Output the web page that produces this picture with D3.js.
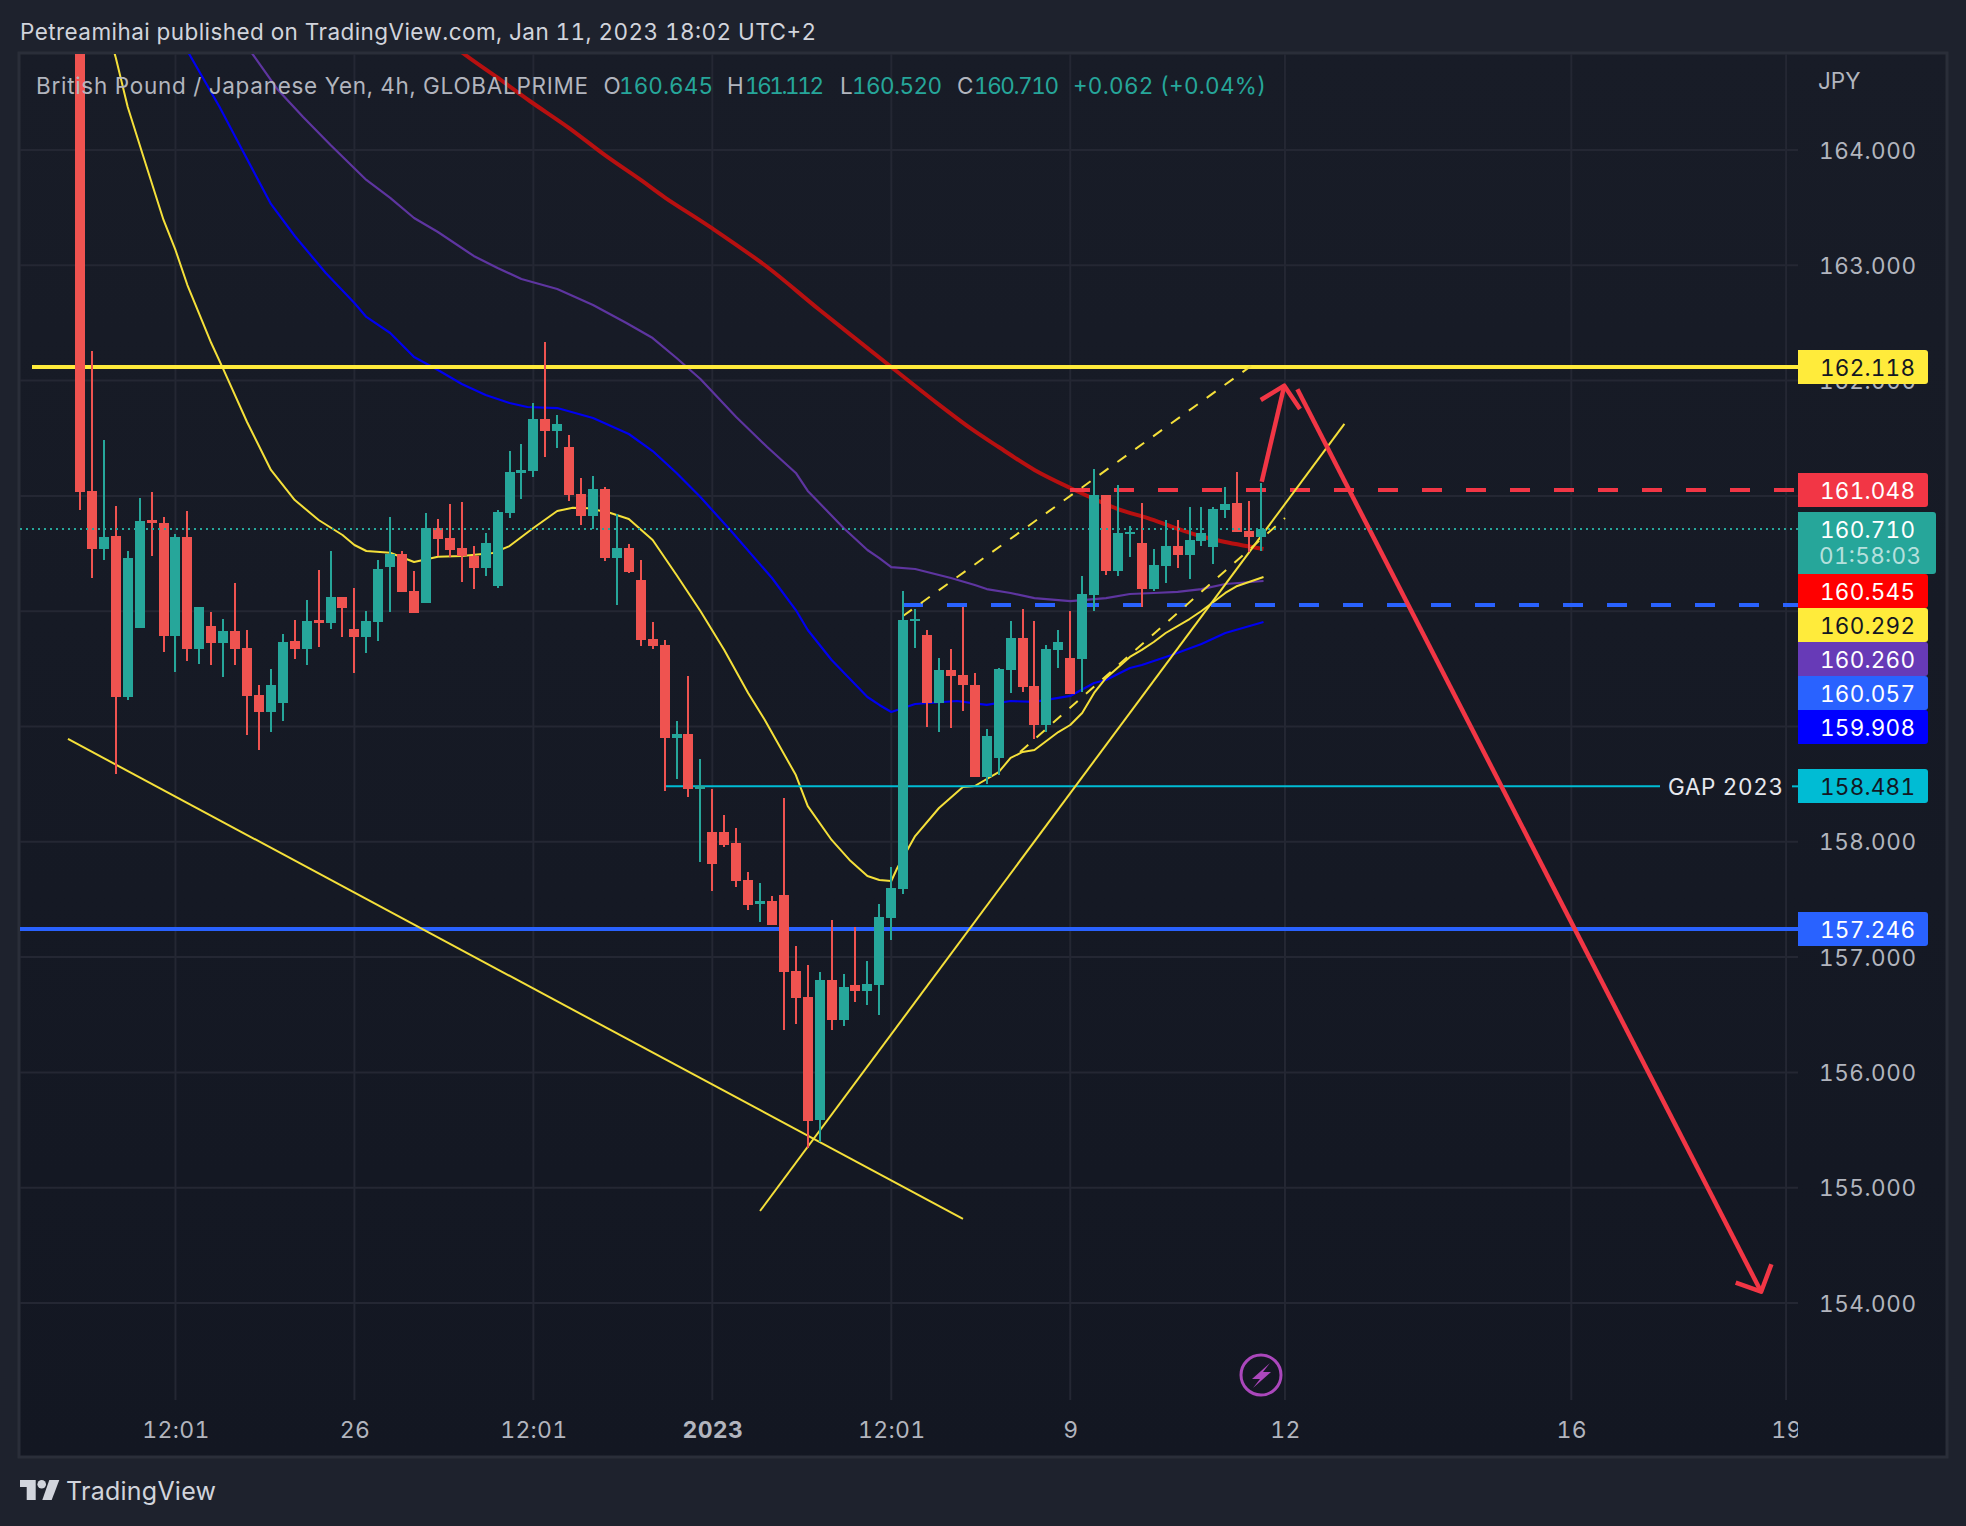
<!DOCTYPE html>
<html>
<head>
<meta charset="utf-8">
<script src="https://cdn.jsdelivr.net/npm/d3@7"></script>
<style>
html,body{margin:0;padding:0;background:#1e222d;}
svg{display:block;}
text{font-family:Inter,"Noto Sans",sans-serif;font-variant-numeric:tabular-nums;font-feature-settings:"tnum" 1;}
</style>
</head>
<body>
<div id="chart"></div>
<script>
// ---- candle data (GBPJPY 4h) ----
const opens=[165.9,161.043,160.540,160.653,159.256,159.855,160.791,160.765,159.785,160.644,159.673,159.872,159.725,159.829,159.681,159.274,159.126,159.204,159.742,159.673,159.924,159.898,160.124,159.846,159.777,159.907,160.384,160.497,160.176,160.072,160.722,160.635,160.549,160.479,160.375,160.219,160.852,161.199,161.216,161.667,161.563,161.425,161.017,160.826,161.060,160.462,160.549,160.271,159.759,159.707,158.901,158.935,158.458,158.085,158.085,157.990,157.669,157.461,157.487,157.539,156.880,156.654,155.588,156.802,156.455,156.758,156.706,156.758,157.340,157.591,159.915,159.794,159.204,159.490,159.447,159.360,158.562,158.727,159.490,159.768,159.352,159.013,159.664,159.594,159.586,160.141,161.008,160.349,160.670,160.592,160.193,160.392,160.566,160.488,160.609,160.557,160.878,160.939,160.696,160.645];
const highs=[166.000,162.257,161.485,160.913,160.523,160.982,161.034,160.817,160.670,160.869,160.037,159.993,159.933,160.245,159.837,159.360,159.499,159.803,159.924,160.098,160.358,160.523,160.124,160.202,160.002,160.444,160.817,160.523,160.349,160.852,160.800,160.930,160.947,160.566,160.679,160.878,161.390,161.451,161.806,162.335,161.702,161.529,161.156,161.173,161.078,160.843,160.583,160.444,159.907,159.751,159.048,159.438,158.719,158.458,158.233,158.120,157.738,157.643,157.530,158.380,157.097,156.932,156.871,157.322,156.854,157.261,156.967,157.461,157.782,160.176,160.020,159.837,159.594,159.673,160.037,159.464,158.979,159.508,159.915,160.020,159.915,159.707,159.837,160.002,160.306,161.234,161.008,161.095,160.739,160.939,160.540,160.791,160.791,160.904,160.904,160.904,161.078,161.208,160.956,161.112];
const lows=[160.878,160.288,160.444,158.588,159.230,159.855,160.479,159.647,159.473,159.568,159.542,159.534,159.430,159.534,158.927,158.797,158.953,159.048,159.586,159.534,159.690,159.846,159.777,159.464,159.638,159.742,159.993,160.167,159.985,160.072,160.479,160.470,160.254,160.193,160.306,160.202,160.809,160.974,161.164,161.338,161.416,160.956,160.748,160.713,160.436,160.054,160.332,159.699,159.673,158.441,158.545,158.389,157.825,157.574,157.955,157.608,157.409,157.305,157.279,156.368,156.420,155.345,155.397,156.368,156.403,156.611,156.585,156.498,157.149,157.548,159.681,159.000,158.953,158.987,159.135,158.562,158.502,158.580,159.291,159.300,158.892,158.953,159.508,159.282,159.300,160.002,160.314,160.306,160.470,160.037,160.176,160.245,160.375,160.280,160.566,160.410,160.809,160.687,160.514,160.520];
const closes=[161.034,160.540,160.644,159.256,160.462,160.783,160.765,159.785,160.644,159.673,160.037,159.725,159.829,159.673,159.265,159.126,159.360,159.733,159.673,159.915,159.898,160.124,160.028,159.777,159.915,160.366,160.497,160.167,159.985,160.722,160.627,160.531,160.479,160.375,160.592,160.861,161.208,161.225,161.667,161.563,161.624,161.008,160.826,161.060,160.462,160.549,160.340,159.751,159.699,158.901,158.935,158.458,158.484,157.808,157.973,157.660,157.452,157.487,157.279,156.871,156.646,155.579,156.802,156.455,156.741,156.706,156.767,157.348,157.600,159.924,159.933,159.204,159.490,159.438,159.360,158.562,158.918,159.499,159.768,159.343,159.013,159.673,159.733,159.282,160.150,161.008,160.349,160.679,160.687,160.193,160.401,160.566,160.488,160.618,160.679,160.887,160.930,160.687,160.644,160.710];

// ---- moving averages: bar numbers and values ----
const yellowBars=[2,3,4,5.4,7,8,9,11,12,14,16,18,20,22,23,24,26,28,30,32,34.6,36,37,38,40,41.3,42.6,44.4,46,48,50,51,52,54,56,57.4,60,61,63,64.5,66,67,68,68.5,70,72,74,75,77,78,79,80,82,83,84,85,86,88,89,90,91,93,94,96,97,99.2];
const yellowMA=[165.17,164.80,164.373,163.913,163.393,163.133,162.829,162.326,162.101,161.641,161.225,160.964,160.791,160.661,160.574,160.522,160.507,160.427,160.473,160.479,160.505,160.565,160.644,160.722,160.869,160.898,160.893,160.854,160.800,160.618,160.314,160.158,160.002,159.664,159.291,159.056,158.579,158.310,158.016,157.843,157.703,157.669,157.660,157.773,158.050,158.293,158.475,158.484,158.605,158.727,158.779,158.796,158.952,159.013,159.117,159.291,159.421,159.603,159.664,159.733,159.811,159.932,160.002,160.158,160.219,160.297];
const blueBars=[8,9.2,11.7,13.6,16,18,20.6,23,24,26,28,30,32,34,36,37.5,40,43,46,48,50,52,54.5,58,60,61,63,66,67,68,70,73.5,76,78,80,83,85,86,88,89,91.5,94,96,99.2];
const blueMA=[165.04,164.824,164.373,164.0,163.532,163.254,162.933,162.673,162.552,162.413,162.205,162.092,161.971,161.875,161.806,161.771,161.762,161.676,161.537,161.389,161.199,160.990,160.704,160.288,160.010,159.837,159.577,159.256,159.187,159.126,159.195,159.221,159.187,159.221,159.213,159.265,159.377,159.403,159.507,159.533,159.620,159.716,159.811,159.906];
const purpleBars=[13,14.4,16.6,18.7,21,24,26,28,30,33,35,37,40,43,45.8,48,50,52,55,57.6,60,61,64,66,67,68,70,73,75,76,78,80,83,86,88,90,92,94,96,99.2];
const purpleMA=[165.084,164.841,164.520,164.286,164.043,163.740,163.584,163.410,163.289,163.081,162.977,162.881,162.794,162.656,162.500,162.369,162.196,162.014,161.684,161.424,161.199,161.043,160.722,160.531,160.461,160.383,160.366,160.288,160.227,160.192,160.158,160.114,160.088,160.114,160.149,160.158,160.167,160.192,160.236,160.262];
const redBars=[30,32.3,35,37.7,41,44,47,49,53,57.6,62,68,71.5,74.6,77,80,83,87,89.5,91.6,93.6,95.6,99.2];
const redMA=[165.015,164.824,164.627,164.425,164.190,163.955,163.740,163.590,163.320,162.985,162.612,162.118,161.832,161.590,161.424,161.225,161.069,160.886,160.808,160.730,160.661,160.609,160.539];

// ---- drawn levels and trend lines ([bar, price]) ----
const levelYellow=162.118, levelRed=161.048, levelBlueDash=160.057, levelGap=158.481, levelBlue=157.246, lastPrice=160.710;
const trendDown=[[-1.01,158.892],[74.01,154.729]];
const trendUp=[[57,154.798],[105.98,161.624]];
const dashedUpper=[[68.98,159.958],[98.16,162.127]];
const dashedLower=[[78.79,158.779],[101.0,160.808]];
const arrowUp=[[99.05,161.123],[100.94,161.956]];
const arrowUpHead=[[98.97,161.832],[100.94,161.956],[102.26,161.754]];
const arrowDown=[[102.04,161.925],[140.91,154.098]];
const arrowDownHead=[[138.78,154.176],[140.91,154.098],[141.77,154.336]];

// ---- axes labels ----
const gridPrices=[164,163,162,161,160,159,158,157,156,155,154];
const priceTicks=[164,163,162,158,157,156,155,154];
const timeBars=[8,23,38,53,68,83,101,125,143];
const timeLabels=["12:01","26","12:01","2023","12:01","9","12","16","19"];
const priceBoxes=[
 {v:162.118,t:"162.118",f:"#ffeb3b",c:"#131722"},
 {v:161.048,t:"161.048",f:"#f23645",c:"#ffffff"},
 {v:160.710,t:"160.710",f:"#26a69a",c:"#ffffff",sub:"01:58:03"},
 {v:160.545,t:"160.545",f:"#ff0000",c:"#ffffff"},
 {v:160.292,t:"160.292",f:"#ffeb3b",c:"#131722"},
 {v:160.260,t:"160.260",f:"#673ab7",c:"#ffffff"},
 {v:160.057,t:"160.057",f:"#2962ff",c:"#ffffff"},
 {v:159.908,t:"159.908",f:"#0000ff",c:"#ffffff"},
 {v:158.481,t:"158.481",f:"#00bcd4",c:"#131722"},
 {v:157.246,t:"157.246",f:"#2962ff",c:"#ffffff"}
];

const W=1966,H=1526,L=20,R=1798,T=54,B=1400;
const x=d3.scaleLinear().domain([-5.03,144]).range([L,R]);
const y=d3.scaleLinear().domain([164,154]).range([150,1303]);
const UP="#26a69a",DOWN="#ef5350",YEL="#ffeb3b",RED="#f23645",BLU="#2962ff",CYAN="#00bcd4";
const svg=d3.select("#chart").append("svg").attr("width",W).attr("height",H).attr("viewBox",`0 0 ${W} ${H}`);
const defs=svg.append("defs");
const g=defs.append("linearGradient").attr("id","bg").attr("x1",0).attr("x2",0).attr("y1",0).attr("y2",1);
g.append("stop").attr("offset",0).attr("stop-color","#181c27");
g.append("stop").attr("offset",1).attr("stop-color","#131722");
defs.append("clipPath").attr("id","pane").append("rect").attr("x",L).attr("y",T).attr("width",R-L).attr("height",B-T);
defs.append("clipPath").attr("id","timeclip").append("rect").attr("x",L).attr("y",B).attr("width",R-L).attr("height",56);

svg.append("rect").attr("width",W).attr("height",H).attr("fill","#1e222d");
svg.append("rect").attr("x",19).attr("y",53).attr("width",1928).attr("height",1404).attr("fill","url(#bg)").attr("stroke","#2a2e39").attr("stroke-width",3);

// grid
const grid=svg.append("g").attr("clip-path","url(#pane)").attr("stroke","#242733").attr("stroke-width",2);
grid.selectAll("line.h").data(gridPrices).join("line").attr("x1",L).attr("x2",R).attr("y1",d=>y(d)).attr("y2",d=>y(d));
grid.selectAll("line.v").data(timeBars).join("line").attr("x1",d=>x(d)).attr("x2",d=>x(d)).attr("y1",T).attr("y2",B);

// axes
const axisR=d3.axisRight(y).tickValues(priceTicks).tickFormat(d3.format(".3f")).tickSize(0).tickPadding(21);
const ay=svg.append("g").attr("transform",`translate(${R},0)`).call(axisR);
ay.select(".domain").remove();
ay.selectAll("text").attr("fill","#b2b5be").attr("font-size",22.5).attr("dy",".36em").attr("textLength",97).attr("lengthAdjust","spacing");
const axisB=d3.axisBottom(x).tickValues(timeBars).tickFormat((d,i)=>timeLabels[i]).tickSize(0).tickPadding(0);
const ax=svg.append("g").attr("clip-path","url(#timeclip)").append("g").attr("transform","translate(0,1421)").call(axisB);
ax.select(".domain").remove();
ax.selectAll("text").attr("fill","#b2b5be").attr("font-size",23).attr("dy",0).attr("y",17)
  .attr("font-weight",(d,i)=>timeLabels[i]==="2023"?700:400).attr("letter-spacing",0.3);

// plot layers
const plot=svg.append("g").attr("clip-path","url(#pane)");
const lineGen=d3.line().x(d=>x(d[0])).y(d=>y(d[1]));
function hline(price,x0,x1,color,w,dash,soft){
  const l=plot.append("line").attr("x1",x0).attr("x2",x1).attr("y1",y(price)).attr("y2",y(price))
    .attr("stroke",color).attr("stroke-width",w);
  if(!soft)l.attr("shape-rendering","crispEdges");
  if(dash)l.attr("stroke-dasharray",dash);
  return l;
}
function poly(pts,color,w,dash,curve){
  const gen=curve?d3.line().x(d=>x(d[0])).y(d=>y(d[1])).curve(curve):lineGen;
  const p=plot.append("path").attr("d",gen(pts)).attr("fill","none").attr("stroke",color).attr("stroke-width",w).attr("stroke-linejoin","round");
  if(dash)p.attr("stroke-dasharray",dash);
  return p;
}
// moving averages
poly(d3.zip(redBars,redMA),"#b71010",4,null,d3.curveCatmullRom.alpha(0.5));
poly(d3.zip(purpleBars,purpleMA),"#5e35a0",2.2);
poly(d3.zip(blueBars,blueMA),"#0000f0",2.2);
poly(d3.zip(yellowBars,yellowMA),"#f5e03a",2);
// drawings
hline(levelYellow,x(-4),R,YEL,4);
hline(levelBlue,L,R,BLU,4);
hline(levelRed,x(83),R,RED,4,"20 24");
hline(levelBlueDash,x(69),R,BLU,4,"20 24");
hline(levelGap,x(49.1),1660,CYAN,2,null,true);
hline(levelGap,1792,R,CYAN,2,null,true);
poly(trendDown,"#f5e03a",2);
poly(trendUp,"#f5e03a",2);
poly(dashedUpper,"#f5e03a",2,"11 11");
poly(dashedLower,"#f5e03a",2,"11 11");
// candles
const bars=d3.range(opens.length);
const candles=plot.append("g").attr("shape-rendering","crispEdges");
candles.selectAll("rect.w").data(bars).join("rect").attr("class","w")
  .attr("x",i=>Math.round(x(i))-1).attr("width",2)
  .attr("y",i=>y(highs[i])).attr("height",i=>y(lows[i])-y(highs[i]))
  .attr("fill",i=>closes[i]>=opens[i]?UP:DOWN);
candles.selectAll("rect.b").data(bars).join("rect").attr("class","b")
  .attr("x",i=>Math.round(x(i))-5).attr("width",10)
  .attr("y",i=>y(Math.max(opens[i],closes[i]))).attr("height",i=>Math.max(2,Math.abs(y(opens[i])-y(closes[i]))))
  .attr("fill",i=>closes[i]>=opens[i]?UP:DOWN);
// arrows on top of candles
[arrowUp,arrowUpHead,arrowDown,arrowDownHead].forEach(a=>poly(a,RED,4.5));
// last price dotted
hline(lastPrice,L,R,UP,2,"2 4");

// text helper
function label(txt,xp,yp,size,color,width,extra){
  const t=svg.append("text").attr("x",xp).attr("y",yp).attr("font-size",size).attr("fill",color).attr("xml:space","preserve").text(txt);
  if(width)t.attr("textLength",width).attr("lengthAdjust","spacing");
  if(extra)extra(t);
  return t;
}
const GREY="#b2b5be";
label("Petreamihai published on TradingView.com, Jan 11, 2023 18:02 UTC+2",20,40,22.5,"#d1d4dc",796);
label("British Pound / Japanese Yen, 4h, GLOBALPRIME",36,94,22.5,GREY,552);
[["O",603.5,null,GREY],["160.645",619,94,UP],["H",727,null,GREY],["161.112",745,79,UP],["L",840,null,GREY],["160.520",852,90,UP],["C",957,null,GREY],["160.710",974,85,UP],["+0.062 (+0.04%)",1073,193,UP]]
 .forEach(a=>label(a[0],a[1],94,22.5,a[3],a[2]));
label("JPY",1818,89,22.5,GREY);
label("GAP 2023",1668,795,22.5,"#e6e8ee",115);

// price boxes
let prevBottom=-1e9;
priceBoxes.forEach(b=>{
  const h=b.sub?62:34, w=b.sub?138:130;
  let top=Math.round(y(b.v))-17;
  if(top<prevBottom)top=prevBottom;
  prevBottom=top+h;
  const r=3,xl=R;
  svg.append("path").attr("d",`M${xl},${top}H${xl+w-r}Q${xl+w},${top} ${xl+w},${top+r}V${top+h-r}Q${xl+w},${top+h} ${xl+w-r},${top+h}H${xl}Z`).attr("fill",b.f);
  label(b.t,1820,top+25.5,22.5,b.c,95);
  if(b.sub)label(b.sub,1819,top+52,22.5,"rgba(255,255,255,0.68)",102);
});

// lightning icon
svg.append("circle").attr("cx",1261).attr("cy",1375).attr("r",20).attr("fill","none").attr("stroke","#ab47bc").attr("stroke-width",3);
svg.append("path").attr("d","M1270,1363L1252,1379H1260L1253,1388L1271,1372H1263Z").attr("fill","#ab47bc");

// TradingView logo
const logo=svg.append("g").attr("fill","#d1d4dc");
logo.append("path").attr("d","M20,1480H35.7V1500H26.7V1487H20Z");
logo.append("circle").attr("cx",41.7).attr("cy",1484.3).attr("r",4.3);
logo.append("path").attr("d","M49.3,1480H59.3L51.7,1500H42.3Z");
label("TradingView",66,1500,25,"#d1d4dc",150);
</script>
</body>
</html>
